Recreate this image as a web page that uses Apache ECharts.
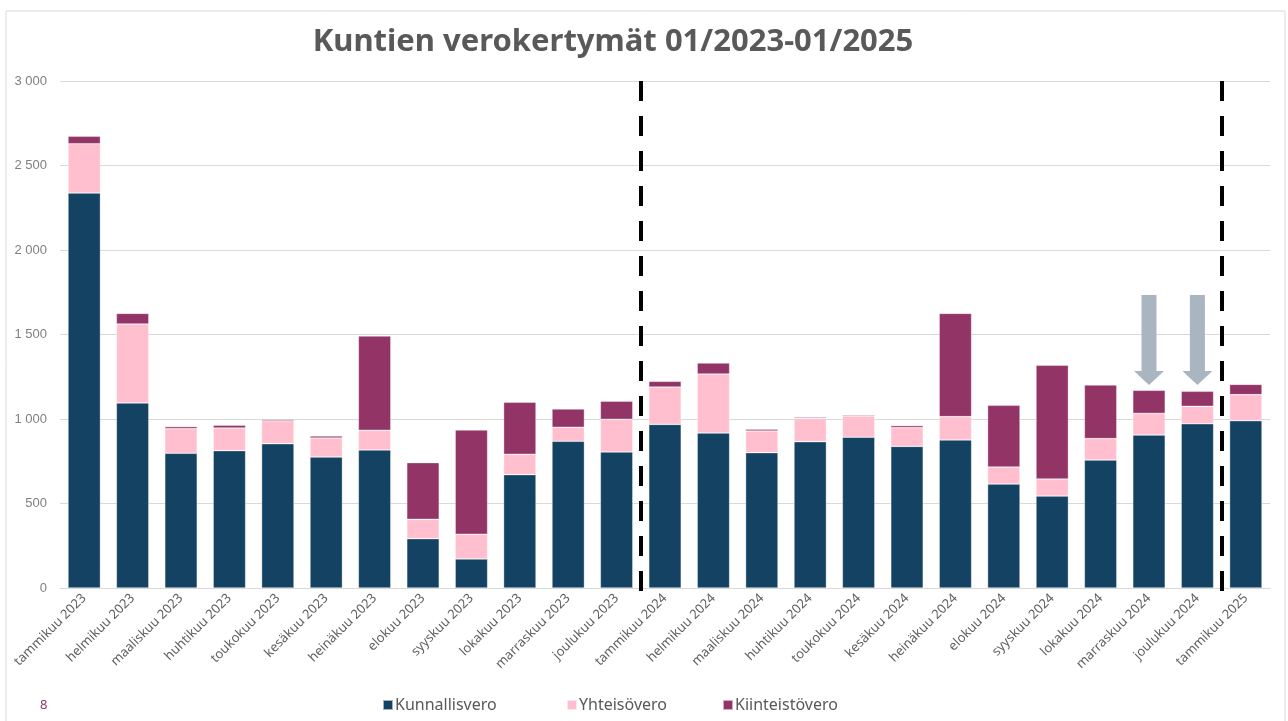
<!DOCTYPE html>
<html>
<head>
<meta charset="utf-8">
<title>Kuntien verokertymät</title>
<script src="https://cdn.jsdelivr.net/npm/echarts@6/dist/echarts.min.js"></script>
<style>
  html, body { margin: 0; padding: 0; background: #fff; }
  #chart { width: 1288px; height: 721px; }
</style>
</head>
<body>
<div id="chart"></div>
<script>
// kuukaudet
const months = [
  'tammikuu 2023', 'helmikuu 2023', 'maaliskuu 2023', 'huhtikuu 2023', 'toukokuu 2023',
  'kesäkuu 2023', 'heinäkuu 2023', 'elokuu 2023', 'syyskuu 2023', 'lokakuu 2023',
  'marraskuu 2023', 'joulukuu 2023', 'tammikuu 2024', 'helmikuu 2024', 'maaliskuu 2024',
  'huhtikuu 2024', 'toukokuu 2024', 'kesäkuu 2024', 'heinäkuu 2024', 'elokuu 2024',
  'syyskuu 2024', 'lokakuu 2024', 'marraskuu 2024', 'joulukuu 2024', 'tammikuu 2025'
]

// milj. euroa, luettu kuvasta
const kunnallisvero = [2337, 1095, 797, 813, 854, 775, 817, 292, 172, 671, 868, 805,
  968, 917, 801, 866, 892, 838, 876, 615, 544, 757, 905, 972, 990]
const yhteisovero = [292, 467, 146, 134, 136, 113, 116, 114, 146, 120, 83, 193,
  221, 349, 128, 138, 126, 111, 138, 101, 101, 127, 128, 103, 154]
const kiinteistovero = [44, 63, 12, 16, 8, 11, 558, 336, 617, 308, 108, 108,
  34, 65, 10, 6, 6, 12, 611, 365, 673, 317, 137, 89, 61]

const seriesNames = ['Kunnallisvero', 'Yhteisövero', 'Kiinteistövero']
const yTicks = [0, 500, 1000, 1500, 2000, 2500, 3000]

// vuodenvaihteet (kategorian raja) ja nuolet
const yearBreaks = [12, 24]
const arrowMonths = ['marraskuu 2024', 'joulukuu 2024']
const arrowTop = 1734
const arrowTip = 1201

const chart = echarts.init(document.getElementById('chart'))

const fmt = v => String(v).replace(/\B(?=(\d{3})+(?!\d))/g, ' ')
const arrowPath = 'path://M7.5,0 L22.5,0 L22.5,76 L30,76 L15,90 L0,76 L7.5,76 Z'

const barSeries = (name, data, color) => ({
  name: name,
  type: 'bar',
  stack: 'vero',
  barWidth: '67%',
  data: data,
  itemStyle: {
    color: color,
    borderColor: 'rgba(255,255,255,0.6)',
    borderWidth: 0.6
  },
  emphasis: { disabled: true }
})

// excel jakaa selitteet omiin lokeroihin, siksi kolme erillistä
const legendLeft = [382, 566, 722]
const legends = seriesNames.map((n, i) => ({
  data: [n],
  left: legendLeft[i],
  top: 697,
  padding: 0,
  icon: 'rect',
  itemWidth: 10,
  itemHeight: 10,
  selectedMode: false,
  textStyle: {
    fontFamily: 'Noto Sans',
    fontSize: 16,
    color: '#595959',
    padding: [0, 0, 0, -3]
  }
}))

const option = {
  animation: false,
  title: {
    text: 'Kuntien verokertymät 01/2023-01/2025',
    left: 608,
    textAlign: 'center',
    top: 22,
    textStyle: {
      fontFamily: 'Noto Sans',
      fontWeight: 'bold',
      fontSize: 31,
      color: '#595959'
    }
  },
  legend: legends,
  graphic: [
    {
      type: 'rect',
      shape: { x: 6, y: 11, width: 1279, height: 730 },
      style: { fill: 'none', stroke: '#d9d9d9', lineWidth: 1 },
      silent: true
    },
    {
      type: 'text',
      left: 40,
      top: 699,
      style: {
        text: '8',
        fill: '#8e3566',
        fontFamily: 'Noto Sans',
        fontSize: 13
      }
    }
  ],
  grid: [
    { left: 60, right: 18, top: 81, bottom: 133 },
    { left: 60, right: 18, top: 66, bottom: 130 }
  ],
  xAxis: [
    {
      type: 'category',
      data: months,
      gridIndex: 0,
      axisTick: { show: false },
      axisLine: { lineStyle: { color: '#d9d9d9', width: 1 } },
      axisLabel: {
        interval: 0,
        rotate: 45,
        margin: 8,
        fontFamily: 'Noto Sans',
        fontSize: 13,
        color: '#606060'
      }
    },
    { type: 'value', gridIndex: 1, min: 0, max: 25, show: false }
  ],
  yAxis: [
    {
      type: 'value',
      gridIndex: 0,
      min: yTicks[0],
      max: yTicks[yTicks.length - 1],
      interval: 500,
      axisLine: { show: false },
      axisTick: { show: false },
      splitLine: { lineStyle: { color: '#d9d9d9', width: 1 } },
      axisLabel: {
        margin: 13,
        fontFamily: 'Liberation Sans',
        fontSize: 13,
        color: '#7f7f7f',
        formatter: fmt
      }
    },
    { type: 'value', gridIndex: 1, min: 0, max: 1, show: false }
  ],
  series: [
    barSeries(seriesNames[0], kunnallisvero, '#134263'),
    barSeries(seriesNames[1], yhteisovero, '#ffbfcf'),
    barSeries(seriesNames[2], kiinteistovero, '#923466'),
    {
      // nuolet
      name: 'nuolet',
      type: 'line',
      data: [],
      silent: true,
      markPoint: {
        symbol: arrowPath,
        symbolSize: [30, 90],
        symbolKeepAspect: false,
        itemStyle: { color: '#a9b5c1' },
        label: { show: false },
        data: arrowMonths.map(m => ({ coord: [m, (arrowTop + arrowTip) / 2] }))
      }
    },
    {
      // katkoviivat vuodenvaihteessa
      name: 'rajat',
      type: 'line',
      xAxisIndex: 1,
      yAxisIndex: 1,
      data: [],
      silent: true,
      markLine: {
        symbol: 'none',
        label: { show: false },
        lineStyle: { color: '#000', width: 4, type: [20, 15] },
        emphasis: { disabled: true },
        data: yearBreaks.map(b => ({ xAxis: b }))
      }
    }
  ]
}

chart.setOption(option)
</script>
</body>
</html>
